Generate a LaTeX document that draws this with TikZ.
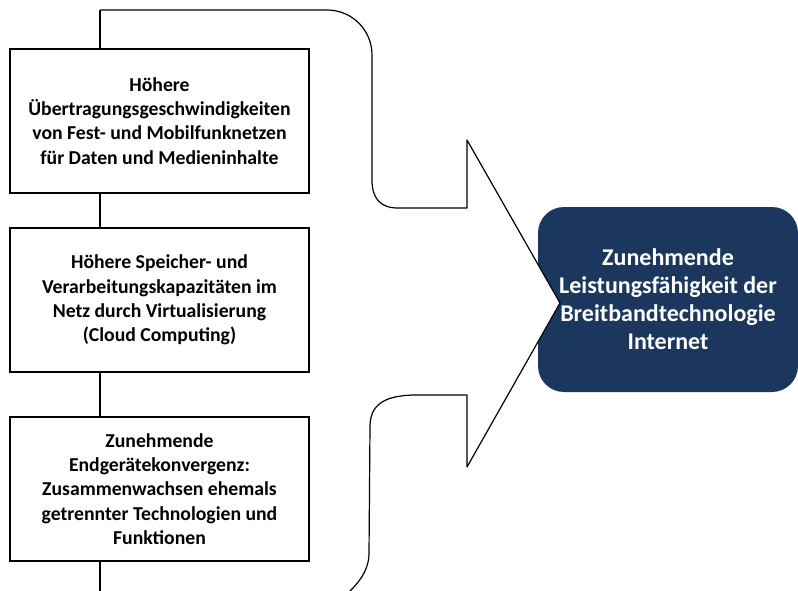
\documentclass[tikz,border=0pt]{standalone}
\usepackage{fontspec}
\setmainfont{Carlito}
\definecolor{navy}{HTML}{1B375E}

\begin{document}
\begin{tikzpicture}
    [
    x=1pt,y=-1pt,line width=1.2pt,
    factor/.style={draw,fill=white,minimum width=299pt,minimum height=144pt,inner sep=0pt,align=center,font=\bfseries\fontsize{19.7}{24.3}\selectfont},
    goal/.style={fill=navy,text=white,rounded corners=26pt,minimum width=260pt,minimum height=185pt,inner sep=0pt,align=center,font=\bfseries\fontsize{24}{28}\selectfont}
    ]
    \useasboundingbox (0,0) rectangle (798,591);
    \clip (0,0) rectangle (798,591);

    \coordinate (top) at (100,10);
    \coordinate (bottom) at (100,600);
    \draw (top) to (bottom);

    \node (f1) at (159.5,121) [factor] {Höhere\\Übertragungsgeschwindigkeiten\\von Fest- und Mobilfunknetzen\\für Daten und Medieninhalte};
    \node (f2) at (159.5,300) [factor] {Höhere Speicher- und\\Verarbeitungskapazitäten im\\Netz durch Virtualisierung\\(Cloud Computing)};
    \node (f3) at (159.5,489) [factor] {Zunehmende\\Endgerätekonvergenz:\\Zusammenwachsen ehemals\\getrennter Technologien und\\Funktionen};

    \node (goal) at (668,299.5) [goal] {Zunehmende\\Leistungsfähigkeit der\\Breitbandtechnologie\\Internet};

    \coordinate (up) at (467,140);
    \coordinate (tip) at (560,303);
    \coordinate (low) at (467,467);
    \fill [white] (up) -- (tip) -- (low) -- cycle;
    \draw [line join=round] (top) -- (327,10) .. controls (352,10) and (372,30) .. (372,55)
        -- (372,180) .. controls (372,198) and (380,208) .. (398,208)
        -- (467,208) -- (up) -- (tip) -- (low) -- (467,395) -- (413,395)
        .. controls (388,396) and (371,402) .. (370,425)
        -- (369,555) .. controls (368,572) and (358,585) .. (340,600);
  \end{tikzpicture}
\end{document}
